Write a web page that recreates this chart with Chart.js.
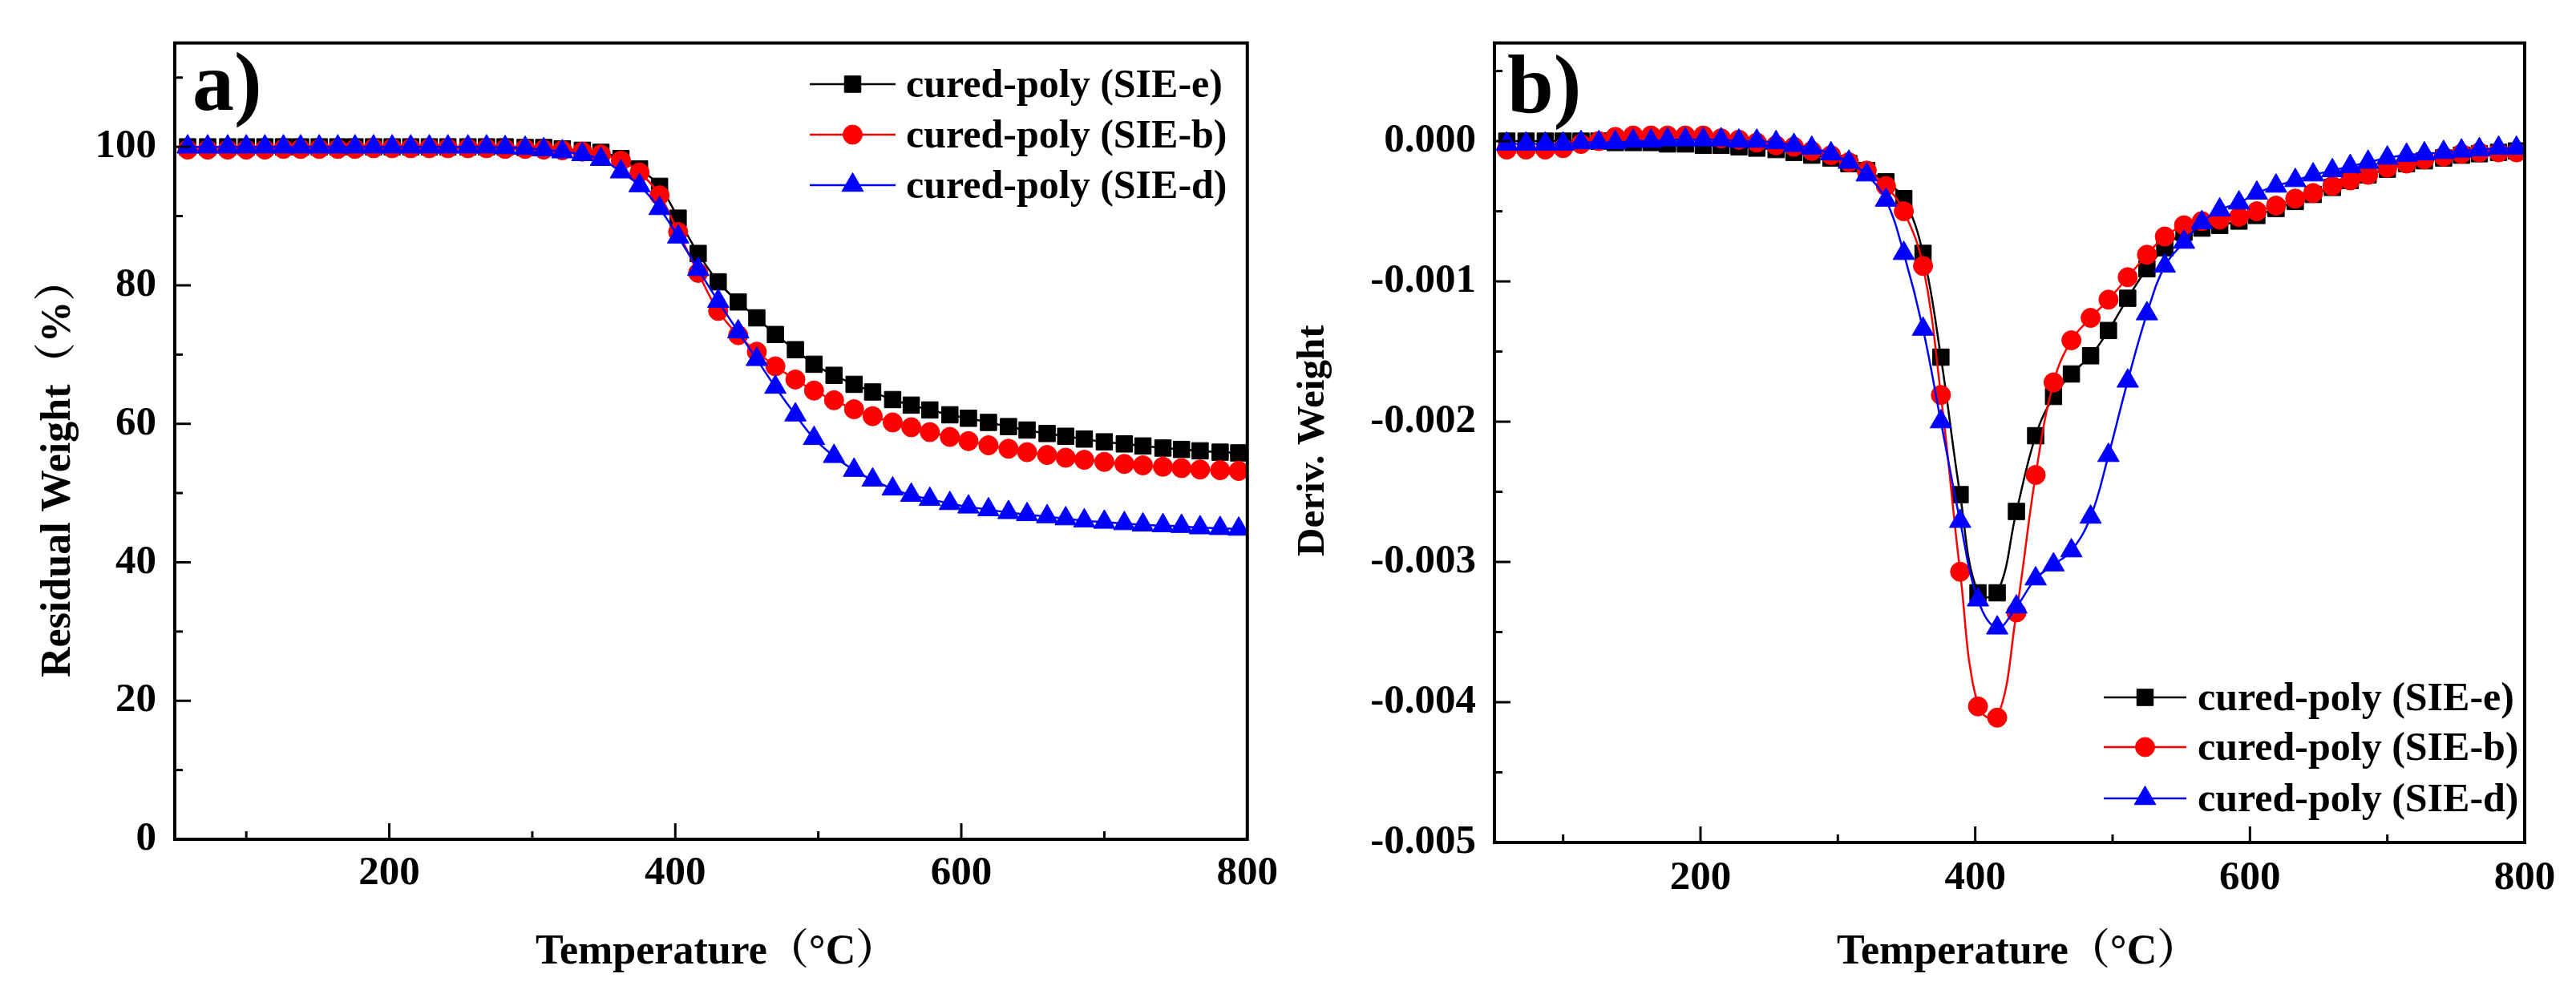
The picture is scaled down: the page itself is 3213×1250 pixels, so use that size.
<!DOCTYPE html>
<html><head><meta charset="utf-8">
<script src="https://cdn.jsdelivr.net/npm/chart.js@4.4.1/dist/chart.umd.min.js"></script>
<style>
html,body{margin:0;padding:0;background:#fff;overflow:hidden;}
#wrap{position:relative;width:3213px;height:1250px;background:#fff;}
.panel{position:absolute;top:0;height:1250px;}
</style></head><body>
<div id="wrap">
<div class="panel" style="left:0;width:1606px"><canvas id="cA"></canvas></div>
<div class="panel" style="left:1606px;width:1607px"><canvas id="cB"></canvas></div>
</div>
<script>
// ---------------- data ----------------
const temperature = [59, 73, 87, 100, 113, 126, 138, 151, 164, 176, 189, 202, 215, 228, 241, 255, 268, 281, 295, 308, 321, 335, 348, 362, 375, 389, 402, 416, 430, 444, 457, 470, 484, 497, 511, 525, 538, 552, 565, 578, 592, 605, 619, 633, 646, 660, 673, 686, 700, 714, 727, 741, 754, 767, 781, 794];
const seriesNames = ['cured-poly (SIE-e)', 'cured-poly (SIE-b)', 'cured-poly (SIE-d)'];

const tgaSIEe = [100.0, 100.0, 100.0, 100.0, 100.0, 100.0, 100.0, 100.0, 100.0, 100.0, 100.0, 100.0, 100.0, 100.0, 100.0, 100.0, 100.0, 100.0, 99.9, 99.9, 99.7, 99.5, 99.2, 98.3, 96.8, 94.3, 89.7, 84.6, 80.5, 77.6, 75.3, 72.9, 70.7, 68.6, 67.0, 65.7, 64.6, 63.5, 62.7, 62.0, 61.3, 60.8, 60.2, 59.6, 59.1, 58.6, 58.2, 57.8, 57.4, 57.1, 56.8, 56.5, 56.3, 56.1, 55.9, 55.8];
const tgaSIEb = [99.6, 99.6, 99.6, 99.6, 99.6, 99.7, 99.7, 99.7, 99.7, 99.7, 99.8, 99.8, 99.8, 99.8, 99.8, 99.8, 99.8, 99.7, 99.7, 99.6, 99.5, 99.3, 98.9, 98.0, 96.3, 93.0, 87.7, 81.8, 76.3, 72.8, 70.4, 68.3, 66.4, 64.8, 63.4, 62.1, 61.1, 60.2, 59.5, 58.8, 58.1, 57.5, 56.9, 56.4, 55.9, 55.5, 55.1, 54.8, 54.5, 54.2, 54.0, 53.8, 53.6, 53.4, 53.3, 53.2];
const tgaSIEd = [100.0, 100.0, 100.0, 100.0, 100.0, 100.0, 100.0, 100.0, 100.0, 100.0, 100.0, 100.0, 100.0, 100.0, 100.0, 100.0, 100.0, 99.9, 99.8, 99.6, 99.3, 98.9, 98.2, 96.4, 94.4, 91.1, 87.0, 82.3, 77.7, 73.3, 69.3, 65.3, 61.3, 57.9, 55.3, 53.3, 51.9, 50.6, 49.7, 49.1, 48.5, 48.0, 47.6, 47.2, 46.9, 46.6, 46.3, 46.0, 45.8, 45.6, 45.4, 45.3, 45.2, 45.0, 44.9, 44.8];

const dtgSIEe = [0.00000, 0.00000, 0.00000, 0.00000, 0.00000, 0.00000, -0.00001, -0.00001, -0.00001, -0.00002, -0.00002, -0.00003, -0.00003, -0.00004, -0.00005, -0.00006, -0.00008, -0.00010, -0.00012, -0.00016, -0.00021, -0.00029, -0.00041, -0.00080, -0.00154, -0.00252, -0.00322, -0.00322, -0.00264, -0.00210, -0.00182, -0.00166, -0.00153, -0.00135, -0.00112, -0.00091, -0.00076, -0.00065, -0.00062, -0.00060, -0.00057, -0.00053, -0.00048, -0.00043, -0.00038, -0.00033, -0.00028, -0.00024, -0.00020, -0.00016, -0.00014, -0.00012, -0.00010, -0.00009, -0.00008, -0.00007];
const dtgSIEb = [-0.00006, -0.00006, -0.00006, -0.00005, -0.00002, 0.00000, 0.00003, 0.00004, 0.00004, 0.00004, 0.00004, 0.00004, 0.00002, 0.00001, -0.00001, -0.00003, -0.00004, -0.00007, -0.00010, -0.00015, -0.00021, -0.00032, -0.00050, -0.00089, -0.00181, -0.00307, -0.00403, -0.00411, -0.00336, -0.00238, -0.00172, -0.00142, -0.00126, -0.00113, -0.00097, -0.00081, -0.00068, -0.00060, -0.00057, -0.00056, -0.00054, -0.00050, -0.00046, -0.00041, -0.00037, -0.00032, -0.00028, -0.00024, -0.00019, -0.00016, -0.00013, -0.00011, -0.00009, -0.00008, -0.00008, -0.00008];
const dtgSIEd = [-0.00002, -0.00002, -0.00002, -0.00002, -0.00001, -0.00001, -0.00001, 0.00000, 0.00000, 0.00001, 0.00001, 0.00001, 0.00001, 0.00000, 0.00000, -0.00001, -0.00003, -0.00005, -0.00009, -0.00015, -0.00024, -0.00042, -0.00080, -0.00134, -0.00200, -0.00271, -0.00327, -0.00347, -0.00332, -0.00312, -0.00302, -0.00292, -0.00268, -0.00224, -0.00171, -0.00123, -0.00089, -0.00072, -0.00058, -0.00049, -0.00044, -0.00037, -0.00032, -0.00028, -0.00024, -0.00021, -0.00018, -0.00015, -0.00012, -0.00010, -0.00009, -0.00008, -0.00007, -0.00006, -0.00005, -0.00005];

const xTickLabels = [200, 400, 600, 800];
const xMinorTicks = [100, 300, 500, 700];
const tgaTickLabels = [0, 20, 40, 60, 80, 100];
const tgaMinorTicks = [10, 30, 50, 70, 90, 110];
const dtgTickLabels = [0, -0.001, -0.002, -0.003, -0.004, -0.005];
const dtgMinorTicks = [0.0005, -0.0005, -0.0015, -0.0025, -0.0035, -0.0045];

// ---------------- styling ----------------
const FONT = "'Liberation Serif', 'Times New Roman', 'Noto Serif CJK SC', 'Noto Sans CJK SC', serif";
const STYLES = [
  {color: '#000000', pointStyle: 'rect', radius: 14.5},
  {color: '#ff0000', pointStyle: 'circle', radius: 12},
  {color: '#0000ff', pointStyle: 'triangle', radius: 15.5}
];

function makeDatasets(seriesList) {
  return seriesList.map((vals, i) => ({
    label: seriesNames[i],
    data: temperature.map((t, k) => ({x: t, y: vals[k]})),
    borderColor: STYLES[i].color,
    backgroundColor: STYLES[i].color,
    pointBackgroundColor: STYLES[i].color,
    pointBorderColor: STYLES[i].color,
    pointBorderWidth: 1,
    pointStyle: STYLES[i].pointStyle,
    pointRadius: STYLES[i].radius,
    borderWidth: 2.5,
    tension: 0.4,
    fill: false,
    order: 3 - i
  }));
}

function drawMarker(ctx, style, r, x, y, color) {
  ctx.save();
  ctx.fillStyle = color; ctx.strokeStyle = color; ctx.lineWidth = 1;
  ctx.beginPath();
  if (style === 'rect') {
    const s = r * Math.SQRT1_2;
    ctx.rect(x - s, y - s, 2 * s, 2 * s);
  } else if (style === 'circle') {
    ctx.arc(x, y, r, 0, Math.PI * 2);
  } else {
    let a = 0;
    ctx.moveTo(x + Math.sin(a) * r, y - Math.cos(a) * r);
    a += 2 * Math.PI / 3; ctx.lineTo(x + Math.sin(a) * r, y - Math.cos(a) * r);
    a += 2 * Math.PI / 3; ctx.lineTo(x + Math.sin(a) * r, y - Math.cos(a) * r);
    ctx.closePath();
  }
  ctx.fill(); ctx.stroke();
  ctx.restore();
}

const framePlugin = {
  id: 'frame',
  afterDatasetsDraw(chart, args, o) {
    const {ctx, chartArea: a} = chart;
    const xs = chart.scales.x, ys = chart.scales.y;
    ctx.save();
    ctx.strokeStyle = '#000'; ctx.lineCap = 'butt';
    ctx.lineWidth = 3;
    const seg = (x1, y1, x2, y2) => { ctx.beginPath(); ctx.moveTo(x1, y1); ctx.lineTo(x2, y2); ctx.stroke(); };
    o.xMajor.forEach(v => { const p = xs.getPixelForValue(v); seg(p, a.bottom, p, a.bottom - 20); });
    o.xMinor.forEach(v => { const p = xs.getPixelForValue(v); seg(p, a.bottom, p, a.bottom - 10); });
    o.yMajor.forEach(v => { const p = ys.getPixelForValue(v); seg(a.left, p, a.left + 20, p); });
    o.yMinor.forEach(v => { const p = ys.getPixelForValue(v); seg(a.left, p, a.left + 10, p); });
    ctx.lineWidth = 4;
    ctx.strokeRect(a.left, a.top, a.right - a.left, a.bottom - a.top);
    ctx.restore();
  }
};

const textPlugin = {
  id: 'texts',
  afterDraw(chart, args, o) {
    const ctx = chart.ctx;
    ctx.save();
    ctx.fillStyle = '#000';
    // panel label
    ctx.font = `bold ${o.panel.size}px ${FONT}`;
    ctx.textAlign = 'left'; ctx.textBaseline = 'alphabetic';
    ctx.fillText(o.panel.text, o.panel.x, o.panel.y);
    // x title (left-aligned at ink start)
    ctx.font = `bold ${o.xTitle.size}px ${FONT}`;
    ctx.textAlign = 'left';
    ctx.fillText(o.xTitle.text, o.xTitle.x, o.xTitle.y);
    // y title (rotated, starting at bottom)
    ctx.save();
    ctx.translate(o.yTitle.x, o.yTitle.y);
    ctx.rotate(-Math.PI / 2);
    ctx.font = `bold ${o.yTitle.size}px ${FONT}`;
    ctx.textAlign = 'left'; ctx.textBaseline = 'alphabetic';
    ctx.fillText(o.yTitle.text, 0, 0);
    ctx.restore();
    // legend
    const L = o.legend;
    chart.data.datasets.forEach((ds, i) => {
      const yy = L.rows[i];
      ctx.strokeStyle = ds.borderColor; ctx.lineWidth = 2.5;
      ctx.beginPath(); ctx.moveTo(L.x1, yy); ctx.lineTo(L.x2, yy); ctx.stroke();
      drawMarker(ctx, ds.pointStyle, ds.pointRadius, (L.x1 + L.x2) / 2, yy, ds.borderColor);
      ctx.fillStyle = '#000';
      ctx.font = `bold ${L.size}px ${FONT}`;
      ctx.textAlign = 'left'; ctx.textBaseline = 'alphabetic';
      ctx.fillText(ds.label, L.tx, yy + 16);
    });
    ctx.restore();
  }
};

function makeChart(id, datasets, cfg) {
  return new Chart(document.getElementById(id), {
    type: 'line',
    data: {datasets},
    plugins: [framePlugin, textPlugin],
    options: {
      responsive: true, maintainAspectRatio: false, animation: false, devicePixelRatio: 1,
      layout: {padding: {left: 0, top: cfg.padTop, right: cfg.padRight, bottom: 0}},
      scales: {
        x: {
          type: 'linear', min: 50, max: 800,
          grid: {display: false, drawTicks: false}, border: {display: false},
          ticks: {font: {family: FONT, size: 51, weight: 'bold', lineHeight: 1.2}, color: '#000', padding: cfg.xPad, maxRotation: 0, autoSkip: false},
          afterBuildTicks: s => { s.ticks = xTickLabels.map(v => ({value: v})); },
          afterFit: s => { s.height = cfg.xHeight; }
        },
        y: {
          type: 'linear', min: cfg.yMin, max: cfg.yMax,
          grid: {display: false, drawTicks: false}, border: {display: false},
          ticks: {font: {family: FONT, size: 51, weight: 'bold', lineHeight: 1.2}, color: '#000', padding: 23, autoSkip: false,
                  callback: cfg.yFmt},
          afterBuildTicks: s => { s.ticks = cfg.yTicks.map(v => ({value: v})); },
          afterFit: s => { s.width = cfg.yWidth; }
        }
      },
      plugins: {
        legend: {display: false}, tooltip: {enabled: false},
        frame: {xMajor: [200, 400, 600], xMinor: xMinorTicks, yMajor: cfg.yTicks, yMinor: cfg.yMinor},
        texts: cfg.texts
      }
    }
  });
}

makeChart('cA', makeDatasets([tgaSIEe, tgaSIEb, tgaSIEd]), {
  padTop: 53, padRight: 48, xHeight: 203, yWidth: 218, xPad: 12,
  yMin: 0, yMax: 115, yTicks: tgaTickLabels, yMinor: tgaMinorTicks,
  yFmt: v => String(v),
  texts: {
    panel: {text: 'a)', x: 240, y: 137, size: 104},
    xTitle: {text: 'Temperature（°C）', x: 668, y: 1202, size: 52},
    yTitle: {text: 'Residual Weight（%）', x: 87, y: 845, size: 52},
    legend: {x1: 1010, x2: 1117, tx: 1130, rows: [105, 168, 231], size: 50}
  }
});

makeChart('cB', makeDatasets([dtgSIEe, dtgSIEb, dtgSIEd]), {
  padTop: 52, padRight: 64, xHeight: 199, yWidth: 258, xPad: 14,
  yMin: -0.005, yMax: 0.0007, yTicks: dtgTickLabels, yMinor: dtgMinorTicks,
  yFmt: v => Number(v).toFixed(3),
  texts: {
    panel: {text: 'b)', x: 274, y: 140, size: 104},
    xTitle: {text: 'Temperature（°C）', x: 685, y: 1202, size: 52},
    yTitle: {text: 'Deriv. Weight', x: 45, y: 694, size: 49},
    legend: {x1: 1018, x2: 1121, tx: 1135, rows: [870, 932, 996], size: 50}
  }
});
</script>
</body></html>
